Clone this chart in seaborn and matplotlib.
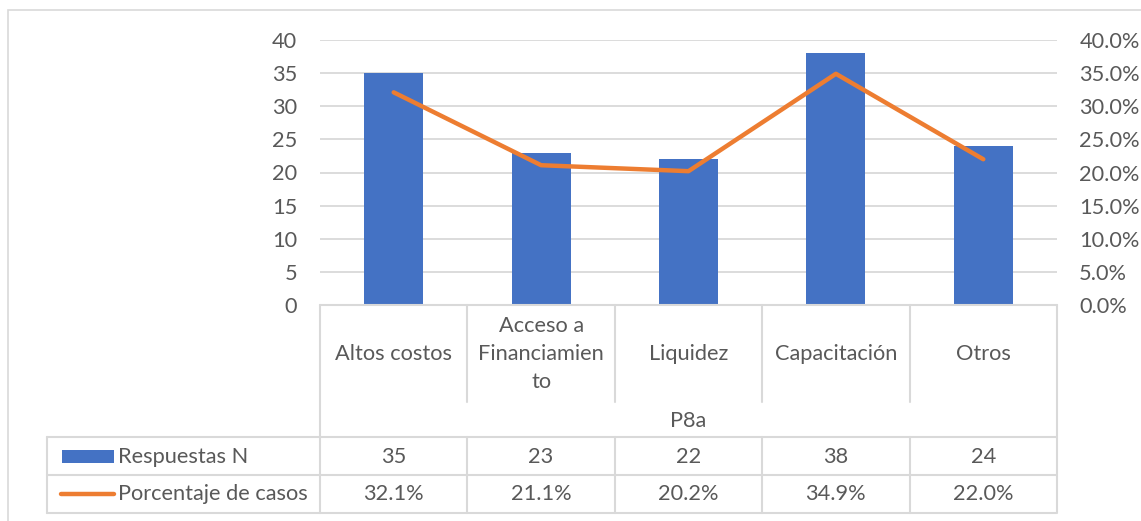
import matplotlib
matplotlib.use("Agg")
import matplotlib.pyplot as plt
import matplotlib.transforms as mtransforms
from matplotlib.lines import Line2D
from matplotlib.patches import Rectangle
from matplotlib.ticker import PercentFormatter
import pandas as pd
import seaborn as sns

# datos de la pregunta P8a
categorias = ["Altos costos", "Acceso a\nFinanciamien\nto", "Liquidez", "Capacitación", "Otros"]
respuestas = [35, 23, 22, 38, 24]
porcentaje = [32.1, 21.1, 20.2, 34.9, 22.0]
eje_x = "P8a"
serie_barras = "Respuestas N"
serie_linea = "Porcentaje de casos"

W, H = 1141, 521
azul = "#4472C4"
naranja = "#ED7D31"
gris = "#D9D9D9"
texto = "#595959"
fs = 15.7

sns.set_theme(style="white")
plt.rcParams['font.family'] = ['Lato', 'DejaVu Sans']


def fx(px):
    return px / W


def fy(py):
    return 1 - py / H


df = pd.DataFrame({"cat": categorias, "n": respuestas,
                   "pct": [p / 100 for p in porcentaje]})

fig = plt.figure(figsize=(W / 100, H / 100), dpi=100)
ax = fig.add_axes([fx(320), fy(305), fx(1057) - fx(320), fy(40) - fy(305)])

sns.barplot(data=df, x="cat", y="n", color=azul, width=0.4, saturation=1, ax=ax,
            zorder=2, linewidth=0)
ax.set_xlim(-0.5, len(categorias) - 0.5)
ax.set_ylim(0, 40)
ax.set_yticks(range(0, 41, 5))
ax.grid(axis='y', color=gris, lw=1.3, zorder=0)
ax.set_axisbelow(True)
for s in ax.spines.values():
    s.set_visible(False)
ax.set_xticks([])
ax.set_xlabel("")
ax.set_ylabel("")
ax.tick_params(axis='y', length=0, pad=16.5, labelsize=fs, labelcolor=texto)

ax2 = ax.twinx()
sns.lineplot(x=list(range(len(categorias))), y=df["pct"].values, color=naranja, lw=3.2,
             ax=ax2, solid_capstyle='round')
ax2.set_ylim(0, 0.4)
ax2.set_yticks([i / 100 for i in range(0, 41, 5)])
ax2.yaxis.set_major_formatter(PercentFormatter(1, decimals=1))
ax2.tick_params(axis='y', length=0, pad=16, labelsize=fs, labelcolor=texto)
for s in ax2.spines.values():
    s.set_visible(False)
ax2.grid(False)

# tabla de datos debajo del grafico
tr = mtransforms.blended_transform_factory(ax.transData, fig.transFigure)
n = len(categorias)
izq, der = -0.5, n - 0.5


def hline(y, x0, x1, t=tr):
    fig.add_artist(Line2D([x0, x1], [fy(y), fy(y)], transform=t, color=gris, lw=1.5))


def vline(x, y0, y1, t=tr):
    fig.add_artist(Line2D([x, x], [fy(y0), fy(y1)], transform=t, color=gris, lw=1.5))


hline(305, izq, der)
vline(izq, 305, 513)
vline(der, 305, 513)
for i in range(1, n):
    vline(i - 0.5, 305, 402)
    vline(i - 0.5, 437, 513)

for y in [437, 475, 513]:
    fig.add_artist(Line2D([fx(47), fx(1056)], [fy(y), fy(y)], transform=fig.transFigure,
                          color=gris, lw=1.5))
fig.add_artist(Line2D([fx(47), fx(47)], [fy(437), fy(513)], transform=fig.transFigure,
                      color=gris, lw=1.5))

for i, c in enumerate(categorias):
    fig.text(i, fy(354), c, transform=tr, ha="center", va="center", fontsize=fs,
             color=texto, linespacing=1.5)
    fig.text(i, fy(457), f"{respuestas[i]}", transform=tr, ha="center", va="center",
             fontsize=fs, color=texto)
    fig.text(i, fy(494), f"{porcentaje[i]:.1f}%", transform=tr, ha="center", va="center",
             fontsize=fs, color=texto)

fig.text((n - 1) / 2, fy(421), eje_x, transform=tr, ha="center", va="center",
         fontsize=fs, color=texto)

# claves de leyenda
fig.add_artist(Rectangle((fx(62), fy(463)), fx(114) - fx(62), fy(450) - fy(463),
                         transform=fig.transFigure, color=azul, lw=0))
fig.add_artist(Line2D([fx(61), fx(114)], [fy(494), fy(494)], transform=fig.transFigure,
                      color=naranja, lw=3.2, solid_capstyle='round'))
fig.text(fx(118), fy(457), serie_barras, ha="left", va="center", fontsize=fs, color=texto)
fig.text(fx(118), fy(494), serie_linea, ha="left", va="center", fontsize=fs, color=texto)

# marco del grafico
fig.add_artist(Rectangle((fx(8), fy(530)), fx(1150) - fx(8), fy(10) - fy(530),
                         transform=fig.transFigure, fill=False, edgecolor=gris, lw=1.2))

fig.savefig("out.png", dpi=100)
